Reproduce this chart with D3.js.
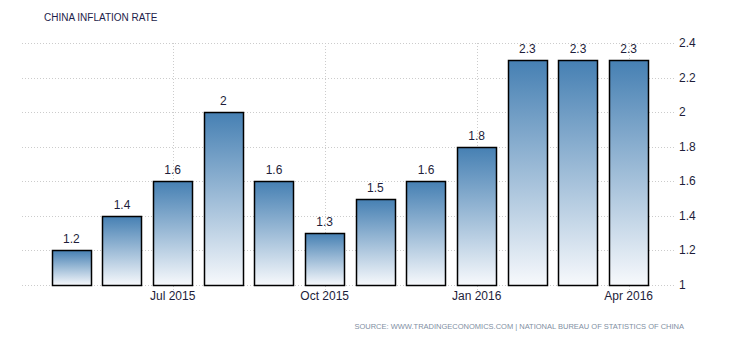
<!DOCTYPE html>
<html>
<head>
<meta charset="utf-8">
<script src="https://cdn.jsdelivr.net/npm/d3@7"></script>
<style>
  body { margin: 0; background: #fff; }
  text { font-family: "Liberation Sans", Arial, sans-serif; }
</style>
</head>
<body>
<div class="canvas"></div>
<script>
const months = ['May 2015', 'Jun 2015', 'Jul 2015', 'Aug 2015', 'Sep 2015', 'Oct 2015',
  'Nov 2015', 'Dec 2015', 'Jan 2016', 'Feb 2016', 'Mar 2016', 'Apr 2016'];
const rates = [1.2, 1.4, 1.6, 2, 1.6, 1.3, 1.5, 1.6, 1.8, 2.3, 2.3, 2.3];
const xTicks = ['Jul 2015', 'Oct 2015', 'Jan 2016', 'Apr 2016'];
const yTicks = [1, 1.2, 1.4, 1.6, 1.8, 2, 2.2, 2.4];

const svg = d3.select('.canvas')
  .append('svg')
  .attr('width', 730)
  .attr('height', 340);

const x = d3.scaleBand()
  .domain(months)
  .range([46, 654])
  .paddingInner(0.23)
  .paddingOuter(0.115);

const y = d3.scaleLinear()
  .domain([1, 2.4])
  .range([285, 43]);

// gradient for the bars
const grad = svg.append('defs').append('linearGradient')
  .attr('id', 'barfill')
  .attr('x1', 0).attr('y1', 0).attr('x2', 0).attr('y2', 1);
grad.append('stop').attr('offset', '0%').attr('stop-color', '#4680b3');
grad.append('stop').attr('offset', '100%').attr('stop-color', '#f7f9fc');

// horizontal grid
svg.append('g')
  .selectAll('line')
  .data(yTicks)
  .join('line')
  .attr('x1', 22).attr('x2', 676)
  .attr('y1', d => Math.round(y(d)) + 0.5)
  .attr('y2', d => Math.round(y(d)) + 0.5)
  .attr('stroke', '#cccccc')
  .attr('stroke-dasharray', '1,2');

// vertical grid at labelled months
svg.append('g')
  .selectAll('line')
  .data(xTicks)
  .join('line')
  .attr('x1', d => Math.round(x(d) + x.bandwidth() / 2) + 0.5)
  .attr('x2', d => Math.round(x(d) + x.bandwidth() / 2) + 0.5)
  .attr('y1', 43).attr('y2', 291)
  .attr('stroke', '#cccccc')
  .attr('stroke-dasharray', '1,2');

// right axis labels
svg.append('g')
  .selectAll('text')
  .data(yTicks)
  .join('text')
  .attr('x', 679)
  .attr('y', d => y(d) + 4)
  .attr('font-size', 12)
  .attr('fill', '#1d1d3a')
  .text(d => d3.format('~g')(d));

// bars
svg.append('g')
  .selectAll('rect')
  .data(rates)
  .join('rect')
  .attr('x', (d, i) => Math.round(x(months[i])) + 0.5)
  .attr('y', d => Math.round(y(d)) + 0.5)
  .attr('width', Math.round(x.bandwidth()))
  .attr('height', d => Math.round(y(1)) - Math.round(y(d)))
  .attr('fill', 'url(#barfill)')
  .attr('stroke', '#000')
  .attr('stroke-width', 1.5);

// value labels
svg.append('g')
  .selectAll('text')
  .data(rates)
  .join('text')
  .attr('x', (d, i) => x(months[i]) + x.bandwidth() / 2)
  .attr('y', d => y(d) - 7)
  .attr('text-anchor', 'middle')
  .attr('font-size', 12)
  .attr('fill', '#1d1d3a')
  .text(d => d);

// x labels
svg.append('g')
  .selectAll('text')
  .data(xTicks)
  .join('text')
  .attr('x', d => x(d) + x.bandwidth() / 2)
  .attr('y', 300)
  .attr('text-anchor', 'middle')
  .attr('font-size', 12)
  .attr('fill', '#1d1d3a')
  .text(d => d);

// title
svg.append('text')
  .attr('x', 44)
  .attr('y', 21)
  .attr('font-size', 10)
  .attr('fill', '#1d1d4a')
  .text('CHINA INFLATION RATE');

// source
svg.append('text')
  .attr('x', 684)
  .attr('y', 329)
  .attr('text-anchor', 'end')
  .attr('font-size', 7.5)
  .attr('fill', '#7f8fa3')
  .text('SOURCE: WWW.TRADINGECONOMICS.COM | NATIONAL BUREAU OF STATISTICS OF CHINA');
</script>
</body>
</html>
